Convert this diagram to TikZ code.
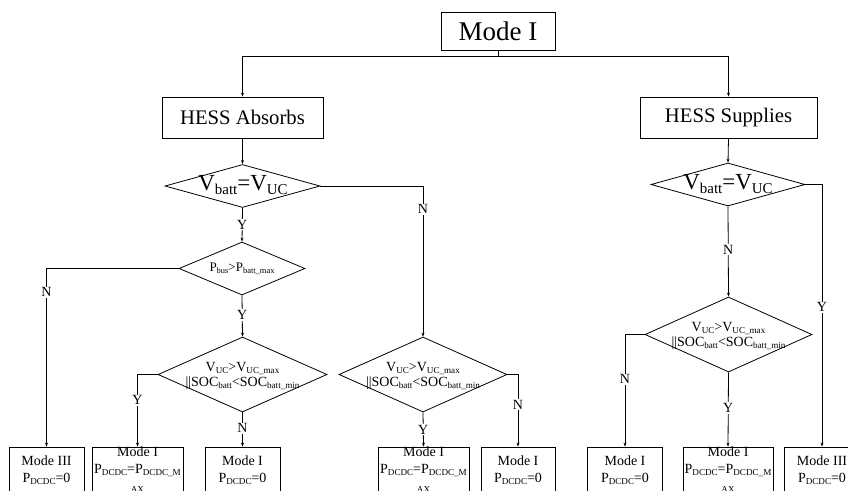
\documentclass[tikz,border=0pt]{standalone}
\usepackage{fontspec}
\setmainfont{Liberation Serif}
\usetikzlibrary{shapes.geometric,arrows.meta}
\newcommand\sbx[1]{\raisebox{-0.15em}{\scalebox{0.65}{#1}}}
\begin{document}
\begin{tikzpicture}[x=1pt,y=-1pt,
  line width=0.8pt,
  arr/.style={-{Stealth[length=4pt,width=3pt]}},
  box/.style={draw, rectangle, inner sep=0pt, align=center, font=\fontsize{14}{17}\selectfont},
  dia/.style={draw, diamond, inner sep=0pt},
  dtext/.style={inner sep=0pt, align=center, font=\fontsize{14}{15}\selectfont},
  lbl/.style={fill=white, inner sep=1pt, font=\fontsize{14}{16}\selectfont}]
\useasboundingbox (0,0) rectangle (848,490);
\clip (0,0) rectangle (848,490);

% top boxes
\node[box, minimum width=114pt, minimum height=38pt, font=\fontsize{27}{30}\selectfont] (m0) at (498,31) {Mode I};
\node[box, minimum width=161pt, minimum height=41pt, font=\fontsize{20.7}{24}\selectfont] (abs) at (242.5,117.5) {HESS Absorbs};
\node[box, minimum width=177pt, minimum height=41pt, font=\fontsize{20.7}{24}\selectfont] (sup) at (728.5,117.5) {HESS Supplies};

% diamonds
\node[dia, minimum width=155pt, minimum height=43pt] (ld1) at (242.5,186) {};
\node[dia, minimum width=126pt, minimum height=53pt] (ld2) at (242,268.5) {};
\node[dia, minimum width=169pt, minimum height=75pt] (ld3) at (242.5,374.5) {};
\node[dia, minimum width=168pt, minimum height=75pt] (md) at (423,374.5) {};
\node[dia, minimum width=154pt, minimum height=43pt] (rd1) at (728,184.5) {};
\node[dia, minimum width=167pt, minimum height=75pt] (rd2) at (728.5,334.5) {};

% diamond texts
\node[inner sep=0pt, font=\fontsize{23}{24}\selectfont] (tld1) at (243,185) {V\sbx{batt}=V\sbx{UC}};
\node[inner sep=0pt, font=\fontsize{23}{24}\selectfont] (trd1) at (728,184) {V\sbx{batt}=V\sbx{UC}};
\node[inner sep=0pt, font=\fontsize{13}{15}\selectfont] (tld2) at (242,268.5) {P\sbx{bus}>P\sbx{batt\_max}};
\node[dtext] (tld3) at (242.5,376) {V\sbx{UC}>V\sbx{UC\_max}\\||SOC\sbx{batt}<SOC\sbx{batt\_min}};
\node[dtext] (tmd) at (423,376) {V\sbx{UC}>V\sbx{UC\_max}\\||SOC\sbx{batt}<SOC\sbx{batt\_min}};
\node[dtext] (trd2) at (728.5,336) {V\sbx{UC}>V\sbx{UC\_max}\\||SOC\sbx{batt}<SOC\sbx{batt\_min}};

% bottom boxes
\node[box, minimum width=75pt, minimum height=46pt] (b1) at (46.5,470) {Mode III\\P\sbx{DCDC}=0};
\node[box, minimum width=91pt, minimum height=46pt] (b2) at (137.5,470) {Mode I\\P\sbx{DCDC}=P\sbx{DCDC\_M}\\\sbx{AX}};
\node[box, minimum width=75pt, minimum height=46pt] (b3) at (242.5,470) {Mode I\\P\sbx{DCDC}=0};
\node[box, minimum width=91pt, minimum height=46pt] (b4) at (423.5,470) {Mode I\\P\sbx{DCDC}=P\sbx{DCDC\_M}\\\sbx{AX}};
\node[box, minimum width=74pt, minimum height=46pt] (b5) at (518,470) {Mode I\\P\sbx{DCDC}=0};
\node[box, minimum width=75pt, minimum height=46pt] (b6) at (625,470) {Mode I\\P\sbx{DCDC}=0};
\node[box, minimum width=90pt, minimum height=46pt] (b7) at (728,470) {Mode I\\P\sbx{DCDC}=P\sbx{DCDC\_M}\\\sbx{AX}};
\node[box, minimum width=75pt, minimum height=46pt] (b8) at (822,470) {Mode III\\P\sbx{DCDC}=0};

% connectors
\draw[arr] (m0.south) -- ++(0,6) -| (abs.north);
\draw[arr] (m0.south) -- ++(0,6) -| (sup.north);
\draw[arr] (abs.south) -- (ld1.north);
\draw[arr] (sup.south) -- (rd1.north);
\draw[arr] (ld1.east) -| node[lbl, pos=0.577] {N} (md.north);
\draw[arr] (ld1.south) -- node[lbl, pos=0.5] {Y} (ld2.north);
\draw[arr] (ld2.west) -| node[lbl, pos=0.567] {N} (b1.north);
\draw[arr] (ld2.south) -- node[lbl, pos=0.476] {Y} (ld3.north);
\draw[arr] (ld3.west) -| node[lbl, pos=0.678] {Y} (b2.north);
\draw[arr] (ld3.south) -- node[lbl, pos=0.46] {N} (b3.north);
\draw[arr] (md.south) -- node[lbl, pos=0.51] {Y} (b4.north);
\draw[arr] (md.east) -| node[lbl, pos=0.708] {N} (b5.north);
\draw[arr] (rd1.east) -| node[lbl, pos=0.734] {Y} (b8.north);
\draw[arr] (rd1.south) -- node[lbl, pos=0.48] {N} (rd2.north);
\draw[arr] (rd2.west) -| node[lbl, pos=0.70] {N} (b6.north);
\draw[arr] (rd2.south) -- node[lbl, pos=0.48] {Y} (b7.north);
\end{tikzpicture}
\end{document}
